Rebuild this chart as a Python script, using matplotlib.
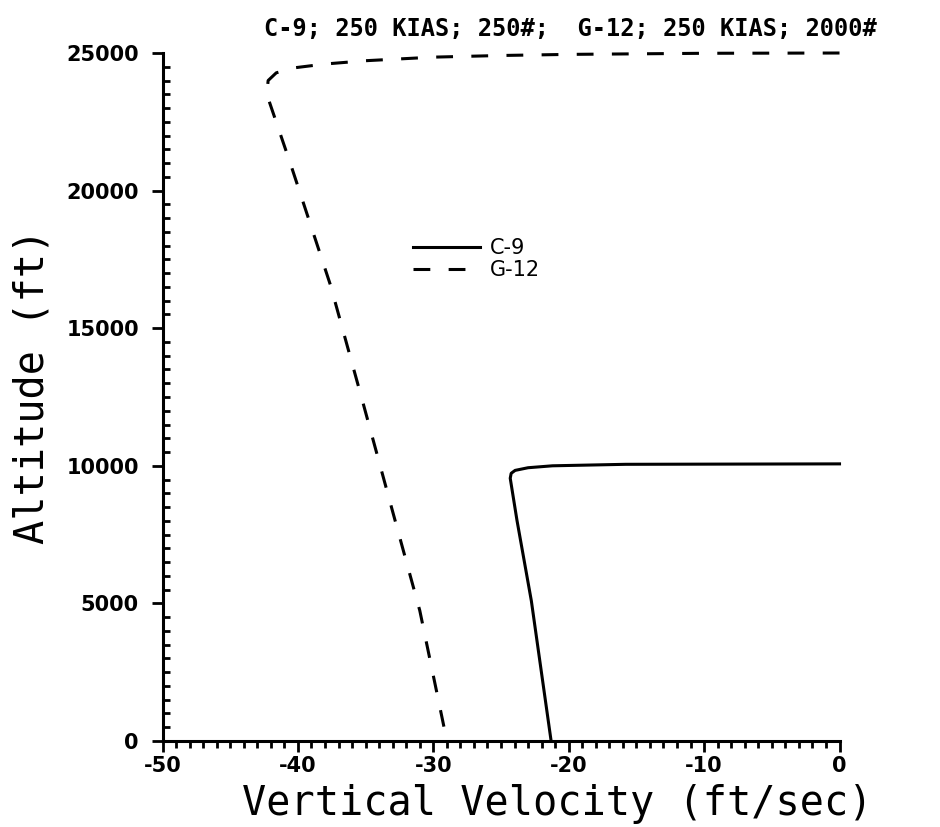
import numpy as np
import matplotlib
matplotlib.use("Agg")
import matplotlib.pyplot as plt
from matplotlib.ticker import MultipleLocator

plt.rcParams["axes.unicode_minus"] = False

# C-9 trajectory (vertical velocity ft/s, altitude ft)
c9_vv = [0, -10, -15.8, -21.2, -23.0, -23.96, -24.25, -24.32, -23.82, -22.76, -21.3]
c9_alt = [10070, 10060, 10054, 10000, 9930, 9833, 9727, 9548, 8013, 5092, 0]

# G-12 trajectory
g12_vv = [0, -10, -20, -25, -30, -35, -38, -40.3, -41.6, -42.2, -42.3,
          -40.5, -37.6, -35.2, -32.9, -31.0, -29.3, -29.0]
g12_alt = [25000, 24990, 24950, 24910, 24850, 24720, 24600, 24460, 24280, 24000, 23500,
           20900, 16570, 12300, 8150, 4740, 716, 0]

title = "C-9; 250 KIAS; 250#;  G-12; 250 KIAS; 2000#"
x_ticks = [-50, -40, -30, -20, -10, 0]
y_ticks = [0, 5000, 10000, 15000, 20000, 25000]

fig = plt.figure(figsize=(9.4, 8.27), dpi=100)
ax = fig.add_axes([0.1729, 0.1040, 0.7202, 0.8319])

ax.plot(c9_vv, c9_alt, color="black", lw=2.2, label="C-9", clip_on=False)
ax.plot(g12_vv, g12_alt, color="black", lw=2.2, dashes=(5.5, 6), label="G-12",
        clip_on=False)

ax.set_xlim(-50, 0)
ax.set_ylim(0, 25000)
ax.set_xticks(x_ticks)
ax.set_yticks(y_ticks)
ax.xaxis.set_minor_locator(MultipleLocator(1))
ax.yaxis.set_minor_locator(MultipleLocator(500))

for s in ["top", "right"]:
    ax.spines[s].set_visible(False)
for s in ["left", "bottom"]:
    ax.spines[s].set_linewidth(2.2)

ax.tick_params(axis="x", which="major", direction="out", length=8, width=2, pad=3)
ax.tick_params(axis="x", which="minor", direction="out", length=5, width=2)
ax.tick_params(axis="y", which="major", direction="out", length=8, width=2, pad=9)
ax.tick_params(axis="y", which="minor", direction="in", length=5, width=2)
for lab in ax.get_xticklabels() + ax.get_yticklabels():
    lab.set_fontsize(15)
    lab.set_fontweight("bold")

ax.set_xlabel("Vertical Velocity (ft/sec)", fontsize=29, family="DejaVu Sans Mono",
              va="baseline")
ax.set_ylabel("Altitude (ft)", fontsize=29, family="DejaVu Sans Mono")
ax.xaxis.set_label_coords(0.583, -0.107)
ax.yaxis.set_label_coords(-0.162, 0.515)

fig.text(0.607, 0.965, title, fontsize=17, fontweight="bold",
         family="DejaVu Sans Mono", ha="center", va="center")

ax.legend(loc="center left", bbox_to_anchor=(0.37, 0.70), frameon=False,
          handlelength=3.2, handletextpad=0.5, labelspacing=0.1,
          fontsize=15, borderpad=0, borderaxespad=0)

fig.savefig("out.png", dpi=100)
